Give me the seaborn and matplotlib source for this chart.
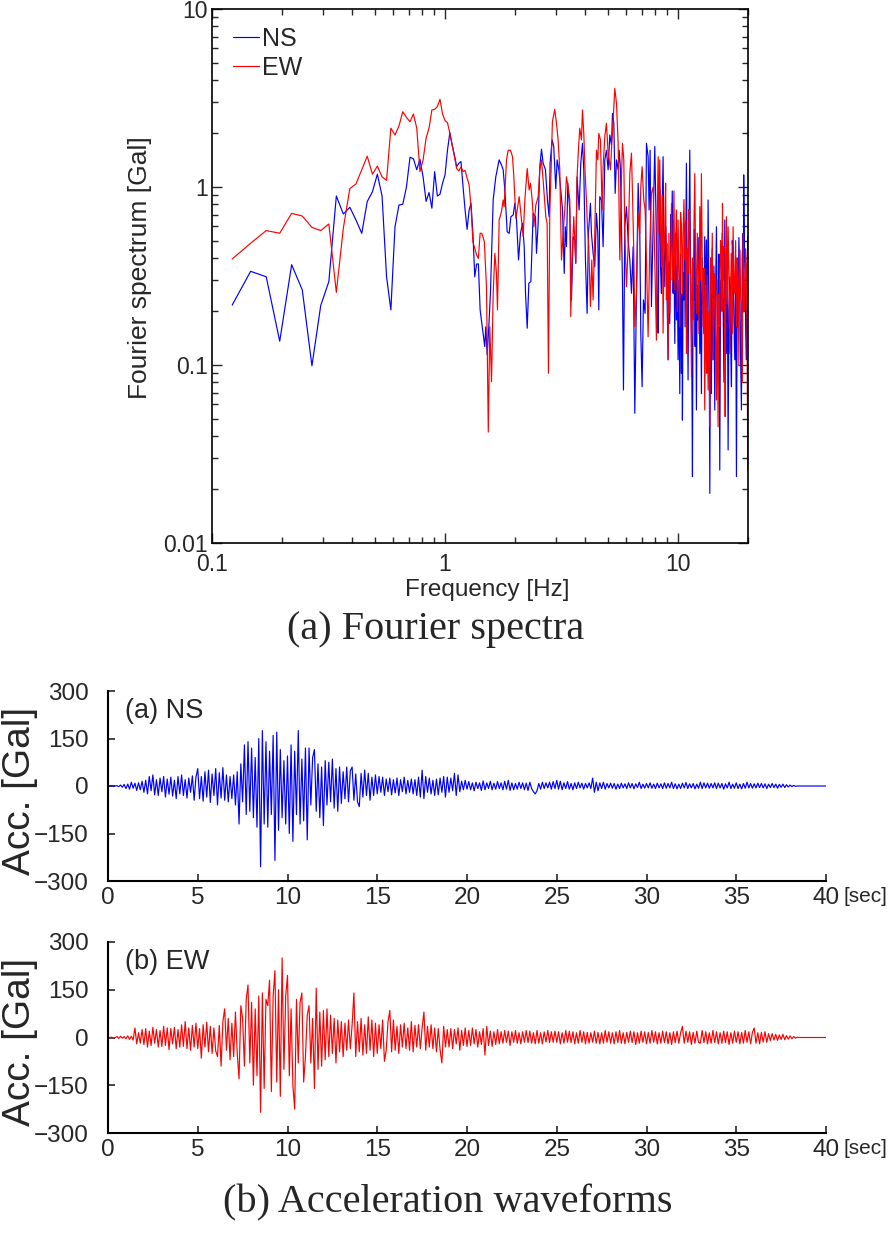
import numpy as np
import matplotlib
matplotlib.use('Agg')
import matplotlib.pyplot as plt
import matplotlib.ticker as mtick
import seaborn as sns

# --- Fourier spectra -------------------------------------------------------
DF = 1 / 40.96                     # frequency step of the FFT [Hz]
LOW_BINS = list(range(5, 59))      # bins 5..58 drawn one by one

NS_LOW_AMP = [0.217, 0.336, 0.313, 0.136, 0.366, 0.264, 0.099, 0.216, 0.294, 0.89,
              0.705, 0.769, 0.653, 0.549, 0.828, 0.94, 1.18, 0.89, 0.313, 0.204,
              0.598, 0.792, 0.80, 1.0, 1.47, 1.44, 1.25, 1.43, 1.14, 0.83,
              0.93, 0.76, 1.22, 0.89, 0.91, 1.05, 1.17, 1.61, 2.02, 1.72,
              1.51, 1.30, 1.36, 1.39, 1.0, 0.74, 0.578, 0.74, 0.81, 0.55,
              0.313, 0.369, 0.37, 0.204]
EW_LOW_AMP = [0.394, 0.483, 0.569, 0.55, 0.711, 0.687, 0.593, 0.569, 0.62, 0.256,
              0.586, 0.98, 1.04, 1.25, 1.49, 1.18, 1.31, 1.14, 1.09, 2.14,
              1.96, 2.20, 2.65, 2.46, 2.33, 2.57, 2.14, 1.22, 1.42, 1.88,
              2.14, 2.71, 2.73, 2.83, 3.11, 2.57, 2.36, 2.30, 2.0, 1.72,
              1.48, 1.27, 1.23, 1.30, 1.22, 1.24, 1.12, 1.03, 0.775, 0.493,
              0.452, 0.415, 0.397, 0.55]

# 1.4 - 8 Hz, read peak by peak
NS_MID_FREQ = [1.482, 1.497, 1.518, 1.543, 1.568, 1.611, 1.653, 1.709, 1.749, 1.778,
               1.808, 1.85, 1.887, 1.919, 1.963, 1.996, 2.029, 2.07, 2.11, 2.153,
               2.189, 2.218, 2.255, 2.292, 2.338, 2.392, 2.447, 2.472, 2.513, 2.554,
               2.597, 2.64, 2.701, 2.755, 2.8, 2.828, 2.884, 2.932, 2.991, 3.031,
               3.082, 3.134, 3.198, 3.252, 3.285, 3.324, 3.369, 3.435, 3.493, 3.55,
               3.609, 3.644, 3.692, 3.767, 3.83, 3.894, 3.945, 4.01, 4.077, 4.131,
               4.213, 4.255, 4.326, 4.398, 4.472, 4.531, 4.576, 4.621, 4.698, 4.776,
               4.856, 4.935, 5.018, 5.103, 5.187, 5.239, 5.309, 5.38, 5.451, 5.541,
               5.597, 5.671, 5.783, 5.84, 5.918, 6.016, 6.115, 6.218, 6.321, 6.426,
               6.533, 6.641, 6.751, 6.863, 6.931, 7.022, 7.115, 7.233, 7.33, 7.451,
               7.525, 7.599, 7.70, 7.829, 7.958]
NS_MID_AMP = [0.127, 0.164, 0.114, 0.164, 0.253, 0.845, 1.14, 1.42, 1.33, 1.25,
              0.96, 0.561, 0.549, 0.681, 0.696, 0.81, 0.653, 0.389, 0.549, 0.625,
              0.462, 0.253, 0.161, 0.288, 0.294, 0.711, 0.681, 0.424, 0.625, 1.30,
              1.63, 1.36, 1.25, 0.845, 0.681, 1.36, 1.84, 1.69, 0.98, 1.42,
              1.25, 1.0, 0.743, 0.327, 0.598, 0.462, 1.05, 0.743, 0.232, 0.526,
              0.504, 0.373, 1.14, 0.743, 1.36, 1.76, 1.25, 0.389, 0.195, 0.549,
              0.81, 0.549, 0.424, 0.357, 0.711, 0.549, 0.204, 0.882, 0.845, 0.462,
              1.42, 1.61, 1.25, 1.96, 1.72, 2.59, 2.28, 0.921, 1.42, 1.25,
              1.61, 1.25, 0.288, 0.0724, 0.598, 0.775, 0.504, 0.389, 0.253, 0.462,
              0.0535, 0.253, 1.05, 0.549, 0.151, 0.0755, 0.232, 0.195, 1.76, 1.48,
              0.743, 1.61, 0.213, 0.598, 1.69]

EW_MID_FREQ = [1.44, 1.476, 1.508, 1.535, 1.558, 1.585, 1.611, 1.638, 1.664, 1.681,
               1.709, 1.749, 1.778, 1.795, 1.838, 1.868, 1.911, 1.95, 1.976, 2.016,
               2.043, 2.083, 2.132, 2.167, 2.203, 2.255, 2.299, 2.33, 2.369, 2.409,
               2.456, 2.513, 2.554, 2.597, 2.64, 2.71, 2.746, 2.782, 2.819, 2.856,
               2.893, 2.96, 3.012, 3.061, 3.112, 3.164, 3.216, 3.27, 3.324, 3.379,
               3.435, 3.469, 3.515, 3.573, 3.644, 3.692, 3.741, 3.792, 3.855, 3.894,
               3.945, 3.998, 4.05, 4.09, 4.145, 4.213, 4.269, 4.326, 4.398, 4.472,
               4.531, 4.576, 4.652, 4.729, 4.776, 4.856, 4.935, 5.018, 5.069, 5.136,
               5.204, 5.273, 5.361, 5.451, 5.541, 5.633, 5.727, 5.783, 5.859, 5.918,
               6.016, 6.115, 6.218, 6.321, 6.384, 6.469, 6.533, 6.641, 6.751, 6.863,
               6.931, 7.022, 7.139, 7.233, 7.33, 7.451, 7.574, 7.70, 7.829, 7.958]
EW_MID_AMP = [0.549, 0.493, 0.275, 0.042, 0.164, 0.0806, 0.253, 0.424, 0.327, 0.204,
              0.653, 0.727, 0.845, 0.776, 1.42, 1.61, 1.61, 1.48, 1.14, 0.667,
              0.743, 0.882, 0.653, 0.526, 0.845, 1.27, 0.962, 1.05, 0.845, 0.598,
              0.792, 0.882, 1.25, 1.42, 1.09, 0.681, 0.625, 0.0898, 0.711, 1.25,
              2.33, 2.73, 2.28, 1.84, 1.25, 0.389, 0.549, 0.743, 1.14, 1.0,
              0.845, 0.187, 0.389, 0.681, 0.373, 1.14, 1.61, 2.14, 1.84, 2.71,
              2.0, 1.19, 0.845, 0.598, 0.462, 0.213, 0.389, 0.232, 0.549, 1.61,
              1.42, 2.0, 1.84, 0.743, 1.30, 1.92, 2.28, 1.55, 1.42, 1.25,
              1.76, 2.38, 3.58, 2.95, 1.76, 0.389, 1.14, 1.76, 1.42, 0.549,
              0.275, 0.462, 1.19, 1.55, 0.921, 0.424, 0.164, 0.253, 0.711, 0.549,
              1.0, 1.30, 0.845, 0.743, 0.389, 0.144, 0.462, 0.921, 1.0, 0.389]

# 8 - 20 Hz, (frequency, amplitude)
NS_TOP = [(8.09, 0.50), (8.16, 0.22), (8.23, 0.151), (8.30, 0.62), (8.36, 0.962),
          (8.43, 0.35), (8.50, 0.253), (8.57, 0.80), (8.64, 1.48), (8.71, 0.45),
          (8.79, 0.275), (8.86, 0.60), (8.93, 0.424), (9.00, 0.21), (9.08, 0.107),
          (9.15, 0.38), (9.23, 0.171), (9.31, 0.70), (9.39, 0.483), (9.46, 0.95),
          (9.54, 0.253), (9.62, 0.41), (9.70, 0.132), (9.78, 0.55), (9.86, 0.179),
          (9.94, 0.36), (10.02, 0.107), (10.10, 0.30), (10.19, 0.069), (10.27, 0.42),
          (10.36, 0.0898), (10.41, 0.25), (10.46, 0.049), (10.53, 0.33), (10.6, 0.232),
          (10.67, 0.62), (10.74, 0.164), (10.81, 0.45), (10.88, 1.36), (10.97, 0.30),
          (11.06, 0.0824), (11.15, 0.48), (11.25, 1.61), (11.32, 0.40), (11.4, 0.253),
          (11.47, 0.12), (11.55, 0.0236), (11.63, 0.38), (11.71, 0.232), (11.78, 0.58),
          (11.86, 0.127), (11.93, 0.35), (12.01, 0.0559), (12.10, 0.28), (12.18, 0.179),
          (12.30, 0.52), (12.42, 0.116), (12.52, 0.30), (12.62, 0.069), (12.72, 0.40),
          (12.83, 0.232), (12.93, 0.15), (13.04, 0.526), (13.15, 0.20), (13.26, 0.504),
          (13.37, 0.09), (13.48, 0.845), (13.60, 0.25), (13.71, 0.019), (13.82, 0.30),
          (13.93, 0.069), (14.05, 0.45), (14.16, 0.107), (14.28, 0.36), (14.4, 0.0559),
          (14.52, 0.25), (14.64, 0.598), (14.76, 0.18), (14.88, 0.132), (15.00, 0.42),
          (15.13, 0.0257), (15.25, 0.30), (15.38, 0.253), (15.51, 0.55), (15.64, 0.213),
          (15.77, 0.08), (15.9, 0.653), (16.03, 0.22), (16.16, 0.116), (16.30, 0.40),
          (16.43, 0.0333), (16.56, 0.20), (16.7, 0.313), (16.84, 0.14), (16.98, 0.0755),
          (17.12, 0.50), (17.26, 0.424), (17.40, 0.18), (17.55, 0.107), (17.70, 0.35),
          (17.84, 0.0236), (17.98, 0.28), (18.13, 0.164), (18.28, 0.52), (18.43, 0.313),
          (18.58, 0.12), (18.74, 0.0559), (18.90, 0.40), (19.05, 0.549), (19.11, 0.20),
          (19.17, 1.17), (19.30, 0.45), (19.43, 0.327), (19.56, 0.15), (19.69, 0.107),
          (19.82, 0.30), (19.95, 0.526)]
EW_TOP = [(8.09, 0.138), (8.16, 0.70), (8.23, 1.48), (8.29, 0.55), (8.36, 1.42),
          (8.43, 0.62), (8.50, 0.357), (8.57, 0.90), (8.64, 0.151), (8.71, 0.40),
          (8.79, 0.598), (8.86, 1.05), (8.93, 0.232), (9.00, 0.48), (9.08, 0.107),
          (9.15, 0.55), (9.23, 0.195), (9.31, 0.40), (9.39, 0.81), (9.46, 0.30),
          (9.54, 0.357), (9.62, 0.95), (9.70, 0.264), (9.78, 0.50), (9.86, 0.743),
          (9.94, 0.20), (10.02, 0.653), (10.10, 0.35), (10.19, 0.164), (10.27, 0.72),
          (10.36, 0.598), (10.45, 0.25), (10.53, 0.549), (10.62, 0.85), (10.71, 0.389),
          (10.80, 0.65), (10.88, 0.116), (10.97, 0.45), (11.06, 0.327), (11.15, 0.75),
          (11.25, 0.598), (11.35, 0.20), (11.44, 0.086), (11.54, 0.40), (11.63, 0.179),
          (11.72, 0.60), (11.82, 1.19), (11.92, 0.35), (12.01, 0.195), (12.11, 0.55),
          (12.21, 0.357), (12.31, 0.15), (12.42, 0.776), (12.52, 0.30), (12.62, 1.19),
          (12.72, 0.40), (12.83, 0.164), (12.93, 0.35), (13.04, 0.0559), (13.15, 0.28),
          (13.26, 0.0898), (13.37, 0.32), (13.48, 0.0724), (13.60, 0.20), (13.71, 0.045),
          (13.82, 0.40), (13.93, 0.253), (14.05, 0.55), (14.16, 0.107), (14.28, 0.22),
          (14.4, 0.327), (14.52, 0.15), (14.64, 0.0636), (14.76, 0.30), (14.88, 0.045),
          (15.00, 0.25), (15.13, 0.164), (15.25, 0.50), (15.38, 0.424), (15.46, 0.20),
          (15.54, 0.81), (15.65, 0.30), (15.75, 0.462), (15.86, 0.18), (15.96, 0.0513),
          (16.06, 0.30), (16.16, 0.681), (16.30, 0.22), (16.43, 0.598), (16.56, 0.35),
          (16.70, 0.116), (16.84, 0.28), (16.98, 0.424), (17.12, 0.15), (17.26, 0.598),
          (17.40, 0.30), (17.55, 0.253), (17.70, 0.50), (17.84, 0.164), (17.98, 0.40),
          (18.13, 0.313), (18.28, 0.10), (18.43, 0.443), (18.58, 0.25), (18.74, 0.213),
          (18.90, 0.08), (19.05, 0.549), (19.21, 0.20), (19.37, 0.275), (19.53, 0.45),
          (19.69, 0.357), (19.82, 0.15), (19.95, 0.0257)]

# --- Acceleration waveforms (0.1 s step, one row per second) ----------------
DT = 0.1
NS_ACC = [
    0, 0, 0, 0, 0, 1, -2, 3, -4, 5,
    -8, 6, -10, 12, -7, 9, -14, 10, -12, 15,
    -20, 18, -25, 30, -15, 35, -28, 20, -30, 25,
    -18, 30, -35, 22, -26, 28, -32, 18, -40, 30,
    -25, 35, -30, 20, -38, 25, -20, 32, -45, 28,
    55, -40, 30, -48, 45, -35, 50, -52, 38, -30,
    55, -60, 42, -38, 58, -45, 35, -50, 30, -40,
    35, -60, 45, -120, 70, -50, 130, -90, 140, -80,
    120, -100, 90, -130, 150, -255, 175, -120, 140, -130,
    110, -90, 160, -235, 170, -140, 115, -100, 80, -120,
    95, -150, 130, -175, 110, -90, 175, -120, 85, -110,
    120, -170, 120, -60, 90, 115, -80, 70, -100, 60,
    -125, 80, -60, 75, -50, 85, -70, 55, -80, 60,
    -55, 45, -40, 60, -50, 48, 60, -45, 38, -50,
    -65, 40, -35, 50, -30, 40, -45, 28, -30, 35,
    -25, 30, -20, 28, -30, 22, -18, 25, -28, 20,
    -22, 25, -30, 20, -18, 28, -25, 18, -20, 22,
    -25, 20, -30, 28, -35, 50, -40, 30, -20, 25,
    -25, 18, -30, 22, -28, 25, -20, 30, -35, 28,
    -20, 25, -15, 40, -30, 35, -18, 15, -12, 18,
    -10, 14, -12, 10, -15, 12, -8, 10, -14, 16,
    -12, 10, -8, 15, -12, 9, -10, 14, -8, 10,
    -12, 15, -10, 18, -14, 10, -12, 8, -10, 12,
    -8, 10, -12, 9, -14, 12, -8, -18, -25, -15,
    8, -10, 12, -8, 10, -6, 12, -10, 14, -8,
    18, -10, 15, -12, 10, -8, 14, -10, 8, -12,
    10, -8, 12, -6, 9, -10, 8, -6, 10, -8,
    25, -20, 12, -15, 10, -8, 12, -10, 8, -6,
    9, -7, 8, -10, 6, -8, 9, -6, 7, -8,
    10, -6, 8, -9, 7, -5, 12, -8, 6, -7,
    8, -6, 10, -7, 6, -8, 9, -6, 7, -8,
    10, -7, 8, -6, 12, -8, 7, -9, 6, -8,
    9, -6, 11, -8, 7, -6, 8, -9, 6, -7,
    12, -8, 10, -6, 9, -7, 8, -6, 10, -8,
    9, -6, 8, -10, 7, -6, 12, -8, 6, -7,
    10, -8, 6, -9, 8, -7, 12, -6, 8, -7,
    7, -6, 9, -5, 8, -6, 7, -8, 6, -5,
    8, -5, 6, -7, 5, -4, 6, -5, 4, -3,
    3, -2, 2, -1, 0, 0, 0, 0, 0, 0,
    0, 0, 0, 0, 0, 0, 0, 0, 0, 0, 0,
]
EW_ACC = [
    0, 0, 1, -2, 0, 3, -3, 4, -2, 3,
    -4, 5, -6, 4, -8, 30, -20, 15, -18, 25,
    -22, 28, -30, 20, -25, 32, -18, 25, -30, 22,
    -28, 35, -25, 30, -38, 28, -20, 32, -35, 25,
    -30, 40, -28, 50, -35, 30, -40, 38, -30, 45,
    -35, 28, -65, 40, -30, 48, -45, 35, -50, 30,
    -42, -60, 38, -90, 50, 90, -40, 60, -70, 45,
    -60, 80, -50, -130, 100, 60, -90, 120, 165, -80,
    110, -150, 90, -120, 130, -235, 140, -160, 120, 100,
    180, -170, 130, 210, -140, 150, -185, 250, -100, 130,
    195, -120, 90, -150, -225, 120, -80, 110, 140, -140,
    -60, 70, 100, -80, 60, -160, 155, -100, 80, -90,
    85, -70, 90, -60, 70, -50, 60, -80, 55, -45,
    50, -60, 45, -40, 55, -35, 40, 140, -60, 50,
    -45, 60, -55, 40, -50, 65, -40, 55, -60, 45,
    -50, 40, -35, 55, -75, -40, 50, 85, -45, 55,
    -40, 35, -50, 40, -30, 45, -35, 30, -40, 50,
    -45, 38, -30, 40, -35, 30, 80, -40, 35, -30,
    40, -35, 30, -45, 28, -38, -80, 35, -30, 25,
    -30, 28, -35, 25, -20, 30, -40, 22, -25, 30,
    -28, 22, -25, 30, -20, 25, -30, 18, -22, 28,
    -55, 35, -25, 20, -28, 18, -22, 25, -20, 18,
    -18, 22, -15, 20, -25, 18, -15, 22, -18, 15,
    -20, 18, -15, 22, -16, 20, -18, 15, -20, 22,
    -18, 15, -20, 18, -14, 22, -16, 18, -15, 20,
    -15, 18, -20, 15, -18, 22, -15, 20, -16, 18,
    -20, 15, -18, 22, -15, 18, -20, 16, -18, 15,
    -15, 20, -18, 16, -20, 15, -18, 22, -15, 18,
    -18, 15, -20, 18, -16, 22, -18, 15, -20, 16,
    -15, 20, -16, 18, -22, 15, -18, 20, -15, 18,
    -20, 16, -18, 22, -15, 18, -20, 15, -18, 20,
    -16, 18, -20, 15, -22, 18, -16, 20, -18, 15,
    35, -18, 20, -15, 18, -22, 16, -18, 20, -15,
    -18, 22, -16, 18, -20, 15, -18, 22, -16, 18,
    -20, 15, -18, 20, -16, 18, -22, 15, -18, 20,
    -15, 18, -20, 16, -18, 22, -15, 18, -20, 16,
    30, -18, 15, -20, 16, -14, 18, -15, 12, -10,
    12, -8, 10, -9, 8, -6, 10, -7, 6, -5,
    5, -4, 3, -2, 1, 0, 0, 0, 0, 0,
    0, 0, 0, 0, 0, 0, 0, 0, 0, 0, 0,
]

BLUE = '#0000ff'
RED = '#ff0000'

sns.set_style('ticks')
plt.rcParams['font.family'] = ['Liberation Sans', 'DejaVu Sans']

W, H = 896, 1233
fig = plt.figure(figsize=(W / 100, H / 100), dpi=100)


def box(l, t, r, b):
    return [l / W, 1 - b / H, (r - l) / W, (b - t) / H]


# ---------------- (a) Fourier spectra ----------------
ax = fig.add_axes(box(212, 9, 748, 543))
f_low = np.array(LOW_BINS) * DF
ns_top_f, ns_top_a = zip(*NS_TOP)
ew_top_f, ew_top_a = zip(*EW_TOP)
ns_f = np.concatenate([f_low, NS_MID_FREQ, ns_top_f])
ns_a = np.concatenate([NS_LOW_AMP, NS_MID_AMP, ns_top_a])
ew_f = np.concatenate([f_low, EW_MID_FREQ, ew_top_f])
ew_a = np.concatenate([EW_LOW_AMP, EW_MID_AMP, ew_top_a])

sns.lineplot(x=ns_f, y=ns_a, ax=ax, color=BLUE, lw=0.85, label='NS',
             estimator=None, sort=False)
sns.lineplot(x=ew_f, y=ew_a, ax=ax, color=RED, lw=0.85, label='EW',
             estimator=None, sort=False)
ax.set_xscale('log')
ax.set_yscale('log')
ax.set_xlim(0.1, 20)
ax.set_ylim(0.01, 10)
ax.set_xticks([0.1, 1, 10], ['0.1', '1', '10'])
ax.set_yticks([0.01, 0.1, 1, 10], ['0.01', '0.1', '1', '10'])
ax.xaxis.set_minor_locator(mtick.LogLocator(base=10, subs=np.arange(2, 10)))
ax.yaxis.set_minor_locator(mtick.LogLocator(base=10, subs=np.arange(2, 10)))
ax.xaxis.set_minor_formatter(mtick.NullFormatter())
ax.yaxis.set_minor_formatter(mtick.NullFormatter())
ax.tick_params(which='both', direction='in', top=True, right=True,
               width=1.0, labelsize=16.5)
ax.tick_params(axis='x', which='major', pad=7)
ax.tick_params(axis='y', which='major', pad=3)
ax.tick_params(which='major', length=7)
ax.tick_params(which='minor', length=4)
for s in ax.spines.values():
    s.set_linewidth(1.2)
    s.set_color('black')
ax.set_xlabel('')
ax.set_ylabel('')
ax.legend(loc='upper left', bbox_to_anchor=(21 / 536, 1 - 18 / 534),
          frameon=False, fontsize=18, handlelength=1.05, handletextpad=0.12,
          labelspacing=0.2, borderaxespad=0, borderpad=0)

fig.text(487 / W, 1 - 590 / H, 'Frequency [Hz]', ha='center', va='center',
         fontsize=17.5)
fig.text(140 / W, 1 - 268 / H, 'Fourier spectrum [Gal]', ha='center',
         va='center', rotation=90, fontsize=19)
fig.text(436 / W, 1 - 630 / H, '(a) Fourier spectra', ha='center',
         va='center', fontsize=29, family='Liberation Serif')


# ---------------- (b) Acceleration waveforms ----------------
def wave(box_px, acc, color, tag, ylab_y):
    a = fig.add_axes(box(*box_px))
    t = np.arange(len(acc)) * DT
    sns.lineplot(x=t, y=acc, ax=a, color=color, lw=0.85,
                 estimator=None, sort=False)
    a.set_xlim(0, 40)
    a.set_ylim(-300, 300)
    a.set_xticks(range(0, 41, 5))
    a.set_yticks([-300, -150, 0, 150, 300],
                 ['\u2212300', '\u2212150', '0', '150', '300'])
    a.spines['top'].set_visible(False)
    a.spines['right'].set_visible(False)
    for k in ('left', 'bottom'):
        a.spines[k].set_linewidth(1.5)
        a.spines[k].set_color('black')
    a.tick_params(direction='in', length=5, width=1.2, labelsize=17.5)
    a.tick_params(axis='y', pad=14)
    a.tick_params(axis='x', pad=4)
    a.set_xlabel('')
    a.set_ylabel('')
    a.text(0.024, 0.895, tag, transform=a.transAxes, fontsize=19.5,
           ha='left', va='center')
    a.text((843 - box_px[0]) / (box_px[2] - box_px[0]),
           -16 / (box_px[3] - box_px[1]), '[sec]', transform=a.transAxes,
           fontsize=15, ha='left', va='center')
    fig.text(20 / W, 1 - ylab_y / H, 'Acc. [Gal]', rotation=90,
             ha='center', va='center', fontsize=28)
    return a


wave((108, 691, 826, 881), NS_ACC, BLUE, '(a) NS', 791)
wave((108, 942, 826, 1133), EW_ACC, RED, '(b) EW', 1042)

fig.text(448 / W, 1 - 1203 / H, '(b) Acceleration waveforms', ha='center',
         va='center', fontsize=29, family='Liberation Serif')

fig.savefig('out.png', dpi=100)
